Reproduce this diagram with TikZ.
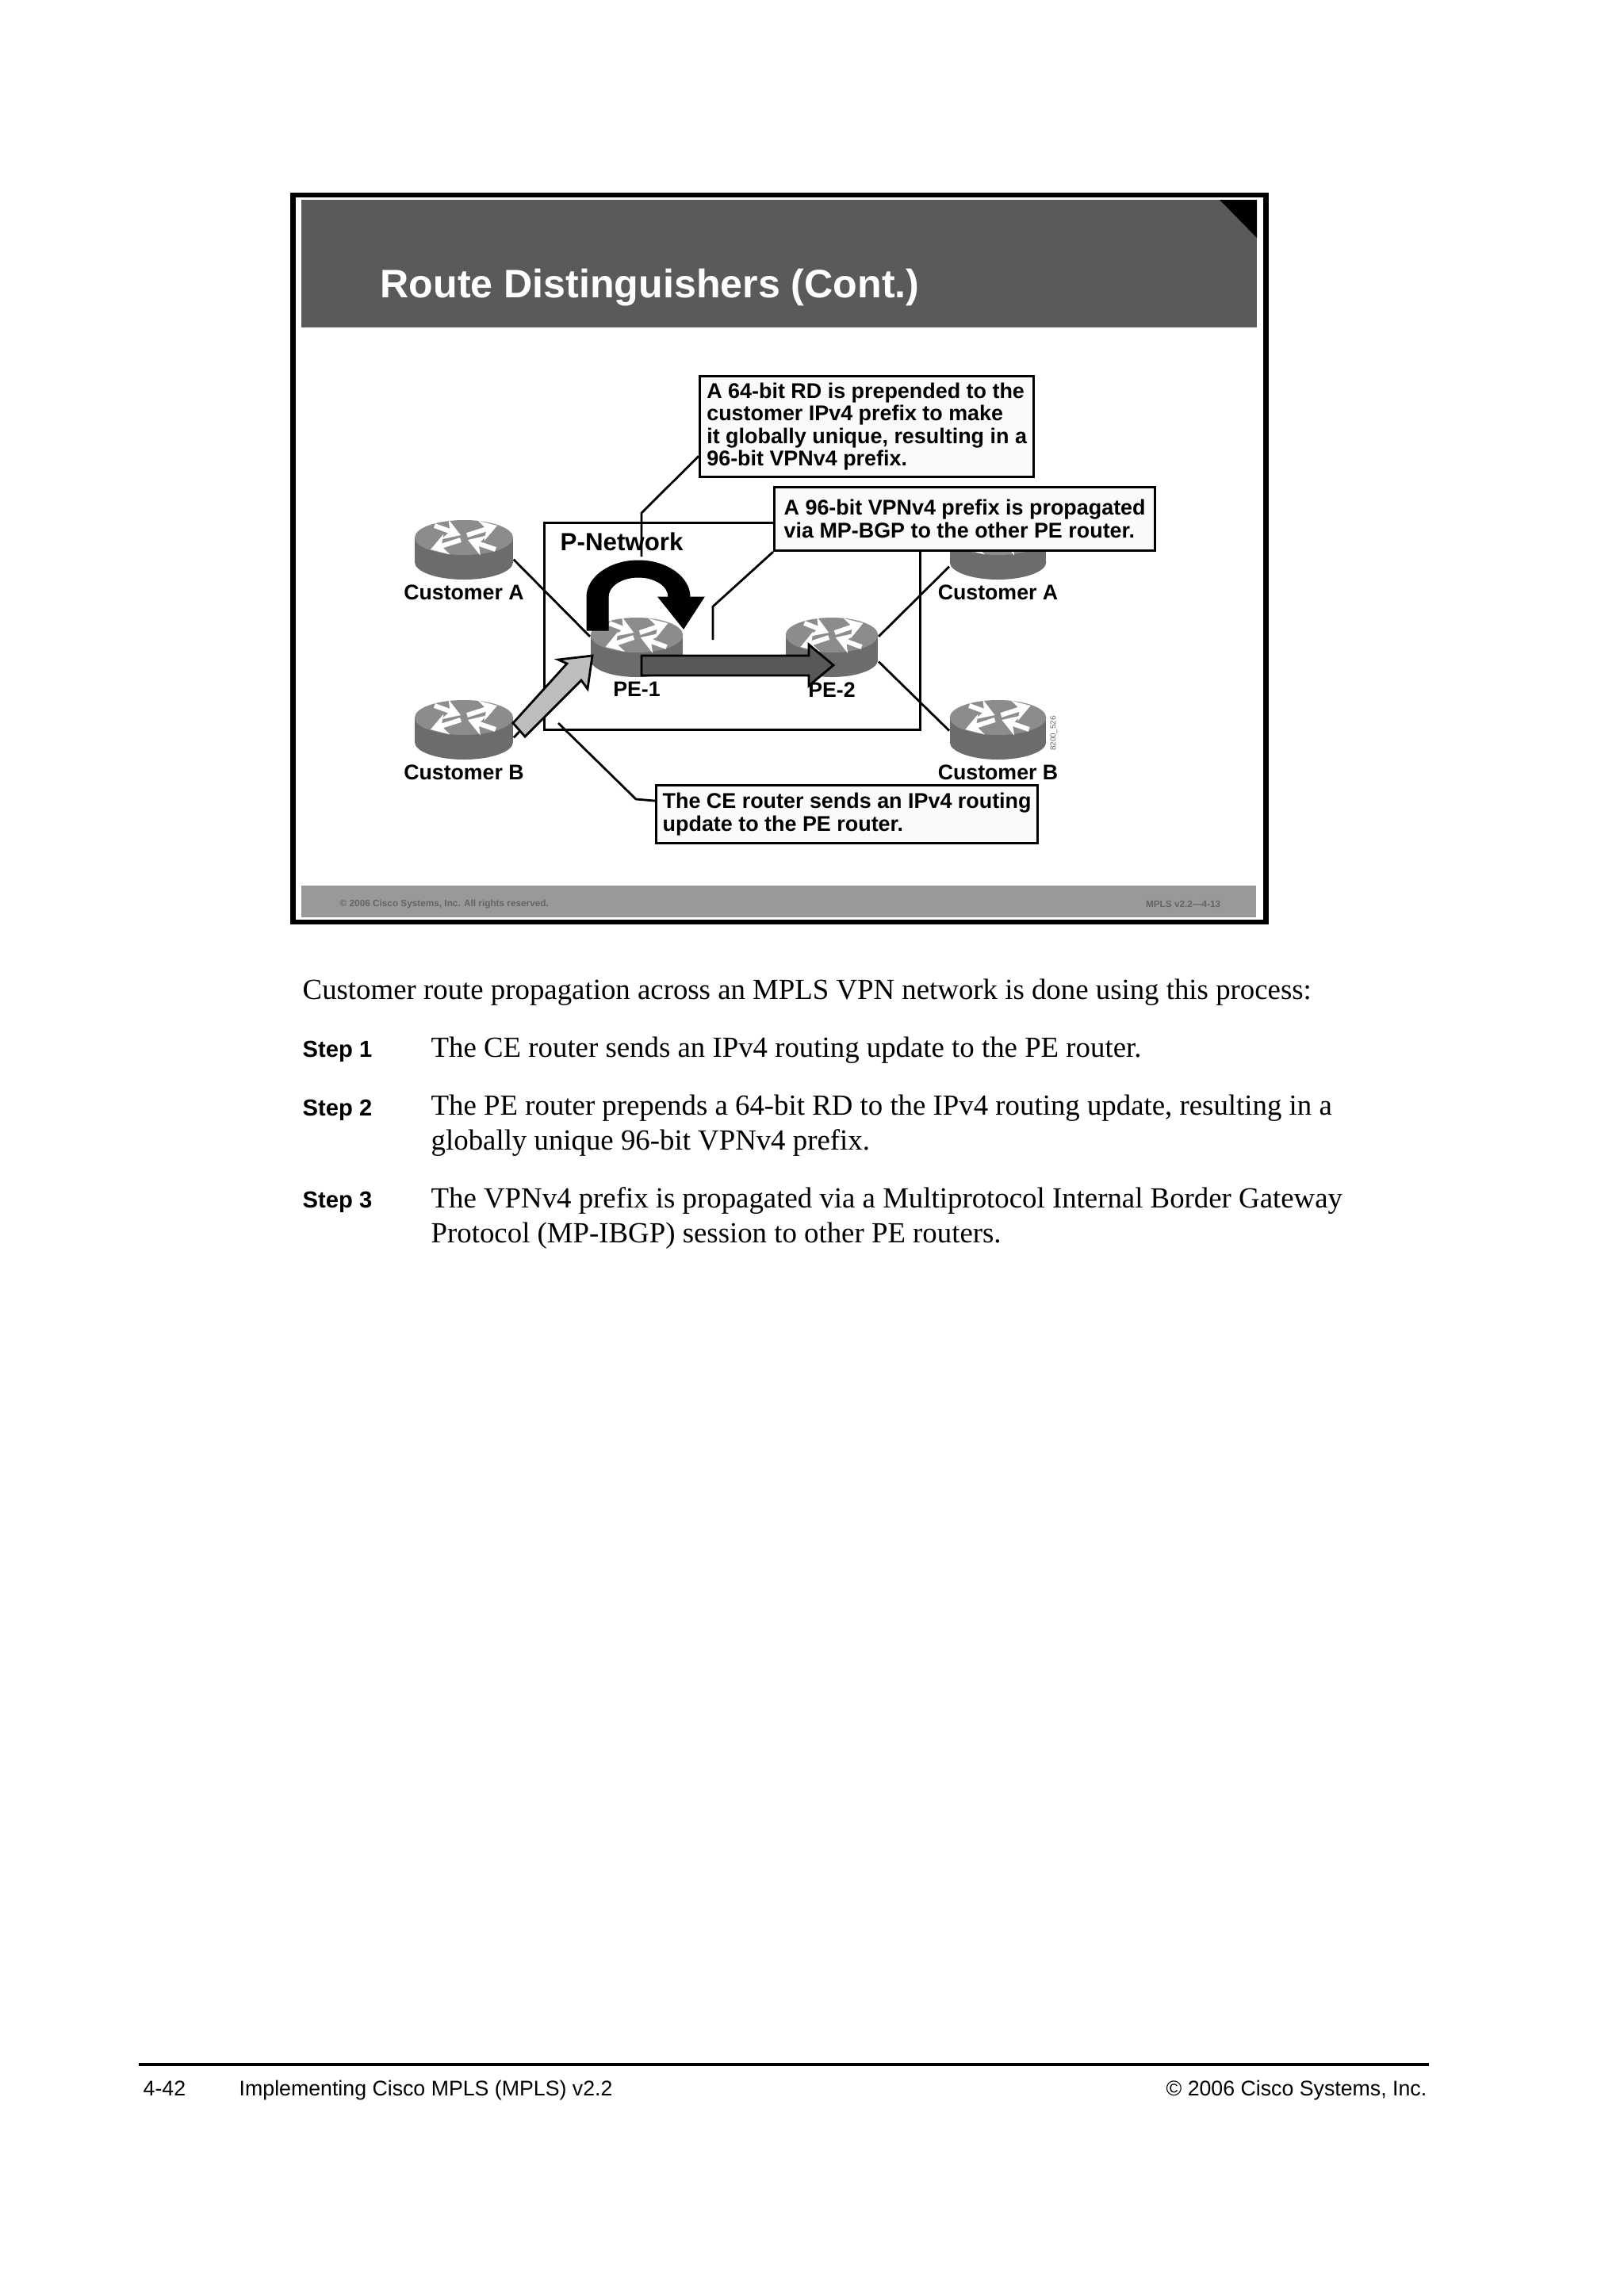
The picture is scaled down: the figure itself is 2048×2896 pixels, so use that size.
\documentclass[tikz,border=0pt]{standalone}
\usepackage{fontspec}
\usepackage{xcolor}
\setmainfont{Liberation Serif}
\setsansfont{Liberation Sans}
\usetikzlibrary{arrows.meta, positioning}
\definecolor{headergray}{RGB}{90, 90, 90}
\definecolor{footergray}{RGB}{153, 153, 153}
\definecolor{footertext}{RGB}{100, 100, 100}
\definecolor{routertop}{RGB}{140, 140, 140}
\definecolor{routerside}{RGB}{108, 108, 108}
\definecolor{calloutfill}{RGB}{250, 250, 250}
\definecolor{updatearrow}{RGB}{190, 190, 190}
\definecolor{bgparrow}{RGB}{88, 88, 88}
\tikzset{
  pics/routerpic/.style = {code = {
    \fill[routerside] (0,31) ellipse [x radius=62, y radius=22];
    \fill[routerside] (-62,0) rectangle (62,31);
    \fill[routertop] (0,0) ellipse [x radius=62, y radius=22];
    \draw[routerglyph] (-37,-15) -- (-4,-3);
    \draw[routerglyph] (4,-3) -- (42,-15);
    \draw[routerglyph] (-4,3) -- (-42,15);
    \draw[routerglyph] (40,15) -- (5,3);
  }}
}
\begin{document}
\begin{tikzpicture}[
    x = 0.01cm, y = -0.01cm,
    routerglyph/.style = {white, line width=0.06cm, -{Stealth[length=6pt, width=7.5pt]}},
    routerbox/.style = {rectangle, inner sep=0pt, minimum height=0.75cm},
    routerlabel/.style = {inner sep=0pt, font=\fontsize{7.6}{8}\sffamily\bfseries},
    callout/.style = {rectangle, draw, line width=0.03cm, fill=calloutfill, anchor=north west,
                      align=left, inner xsep=0.03cm, inner ysep=0.05cm,
                      font=\fontsize{7.65}{8.05}\sffamily\bfseries},
    leader/.style = {line width=0.028cm},
    bodytext/.style = {anchor=base west, inner sep=0pt, align=left, font=\fontsize{10.47}{12.5}\selectfont},
    steplabel/.style = {anchor=base west, inner sep=0pt, font=\fontsize{8.3}{10}\sffamily\bfseries},
    pagefoot/.style = {anchor=base west, inner sep=0pt, font=\fontsize{7.6}{10}\sffamily},
    barlabel/.style = {inner sep=0pt, text=footertext, font=\fontsize{3.35}{4}\sffamily\bfseries}
  ]
    \useasboundingbox (0,0) rectangle (2048,2896);

    % slide frame, header and footer bar
    \draw[line width=0.065cm] (369.5,246) rectangle (1596.5,1163);
    \fill[headergray] (380,252) rectangle (1585,413);
    \fill[black] (1538,252) -- (1585,252) -- (1585,300) -- cycle;
    \fill[footergray] (380,1117) rectangle (1584,1157);
    \node[anchor=base west, inner sep=0pt, text=white, font=\fontsize{14.26}{16}\sffamily\bfseries] (title)
      at (479,375) {Route Distinguishers (Cont.)};
    \node[barlabel, anchor=west] (barcopy) at (428,1140) {© 2006 Cisco Systems, Inc. All rights reserved.};
    \node[barlabel, anchor=east] (barcourse) at (1540,1140) {MPLS v2.2—4-13};

    % routers
    \foreach \rname/\cx/\cy/\sx in {custAl/585/678/1, custBl/585/905/1, custAr/1258.5/678/0.98,
                                    custBr/1258.5/905/0.98, peOne/803/801/0.94, peTwo/1049/801/0.94} {
      \pic[xscale=\sx] at (\cx,\cy) {routerpic};
      \node[routerbox, minimum width=\sx*1.24cm] (\rname) at (\cx,\cy+15.5) {};
    }

    % P network
    \node[rectangle, draw, line width=0.03cm, inner sep=0pt, minimum width=4.74cm, minimum height=2.61cm,
          anchor=north west] (pnet) at (685,658) {};
    \node[anchor=base west, inner sep=0pt, font=\fontsize{8.9}{10}\sffamily\bfseries] (pnetlabel)
      at (706,694) {P-Network};

    % links
    \draw[leader] (custAl.-11) -- (peOne.167);
    \draw[leader] (custBl.-9) -- (peOne.191);
    \draw[leader] (custAr.199) -- (peTwo.13);
    \draw[leader] (custBr.181) -- (peTwo.-17);

    \foreach \rname/\rtext in {custAl/Customer A, custBl/Customer B, custAr/Customer A,
                               custBr/Customer B, peOne/PE-1, peTwo/PE-2} {
      \node[routerlabel, below=0.05cm of \rname] (\rname label) {\rtext};
    }
    \node[rotate=90, inner sep=0pt, text=black!60, font=\fontsize{2.8}{3}\sffamily] (figcode)
      at (1329,925) {8200\_526};

    % block arrows
    \draw[fill=black, draw=black, line width=0.01cm]
      (740,795) -- (740,753) .. controls (740,728) and (769,707) .. (805,707)
      .. controls (841,707) and (870,728) .. (870,753) -- (888,753) -- (862,793) -- (830,753)
      -- (843,753) .. controls (843,739) and (826,728) .. (805,728)
      .. controls (784,728) and (767,739) .. (767,753) -- (767,795) -- cycle;
    \draw[fill=updatearrow, line width=0.028cm]
      (647,912) -- (715,837) -- (704,832) -- (747,827) -- (741,869) -- (733,858) -- (662,929) -- cycle;
    \draw[fill=bgparrow, line width=0.028cm]
      (809,827) -- (1020,827) -- (1020,813) -- (1051,839) -- (1020,865) -- (1020,852) -- (809,852) -- cycle;

    % callouts
    \coordinate (rdend) at (809,702);
    \coordinate (rdbend) at (809,647);
    \coordinate (bgpend) at (899,807);
    \coordinate (bgpbend) at (899,765);
    \coordinate (ceend) at (704,912);
    \coordinate (cebend) at (802,1008);

    \node[callout, minimum width=4.21cm, minimum height=1.27cm] (rdbox) at (881,473)
      {A 64-bit RD is prepended to the\\customer IPv4 prefix to make\\it globally unique, resulting in a\\96-bit VPNv4 prefix.};
    \node[callout, minimum width=4.80cm, minimum height=0.80cm] (bgpbox) at (975,613)
      {A 96-bit VPNv4 prefix is propagated\\via MP-BGP to the other PE router.};
    \node[callout, minimum width=4.81cm, minimum height=0.73cm] (cebox) at (826,989)
      {The CE router sends an IPv4 routing\\update to the PE router.};
    \draw[leader] (rdend) -- (rdbend) -- (rdbox.190);
    \draw[leader] (bgpend) -- (bgpbend) -- (bgpbox.south west);
    \draw[leader] (ceend) -- (cebend) -- (cebox.176);

    % text below the slide
    \node[bodytext] (intro) at (381,1260)
      {Customer route propagation across an MPLS VPN network is done using this process:};
    \node[steplabel] (stepone) at (381,1333) {Step 1};
    \node[bodytext] (steponetext) at (543,1333)
      {The CE router sends an IPv4 routing update to the PE router.};
    \node[steplabel] (steptwo) at (381,1407) {Step 2};
    \node[bodytext] (steptwotext) at (543,1450)
      {The PE router prepends a 64-bit RD to the IPv4 routing update, resulting in a\\
       globally unique 96-bit VPNv4 prefix.};
    \node[steplabel] (stepthree) at (381,1523) {Step 3};
    \node[bodytext] (stepthreetext) at (543,1567)
      {The VPNv4 prefix is propagated via a Multiprotocol Internal Border Gateway\\
       Protocol (MP-IBGP) session to other PE routers.};

    % page footer
    \coordinate (ruleleft) at (175,2604);
    \coordinate (ruleright) at (1802,2604);
    \draw[line width=0.035cm] (ruleleft) -- (ruleright);
    \node[pagefoot] (pagenum) at (180,2643) {4-42};
    \node[pagefoot] (booktitle) at (301,2643) {Implementing Cisco MPLS (MPLS) v2.2};
    \node[pagefoot, anchor=base east] (copyright) at (1800,2643) {© 2006 Cisco Systems, Inc.};
\end{tikzpicture}
\end{document}
